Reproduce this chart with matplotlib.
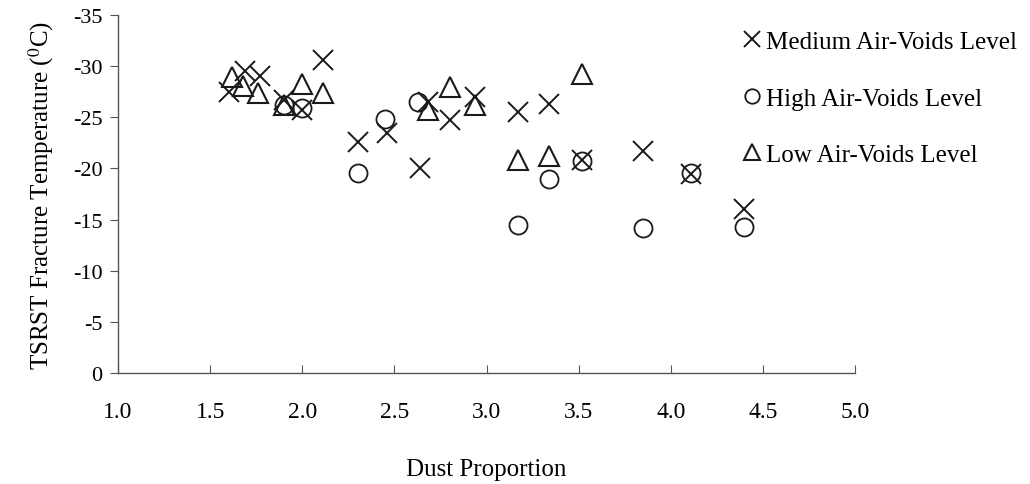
import matplotlib
matplotlib.use("Agg")
import matplotlib.pyplot as plt

plt.rcParams['font.family'] = ['Liberation Serif', 'DejaVu Serif']
plt.rcParams['mathtext.fontset'] = 'stix'

# Medium air-voids level
med_x = [1.60, 1.69, 1.77, 1.90, 2.00, 2.11, 2.30, 2.46, 2.64, 2.68, 2.80, 2.94, 3.17, 3.34, 3.52, 3.85, 4.11, 4.40]
med_y = [-27.5, -29.5, -29.0, -26.7, -25.7, -30.6, -22.6, -23.5, -20.0, -26.5, -24.7, -27.0, -25.5, -26.3, -20.8, -21.7, -19.5, -16.0]

# High air-voids level
high_x = [1.90, 2.00, 2.30, 2.45, 2.63, 3.17, 3.34, 3.52, 3.85, 4.11, 4.40]
high_y = [-26.2, -25.9, -19.6, -24.8, -26.5, -14.5, -19.0, -20.7, -14.2, -19.6, -14.3]

# Low air-voids level
low_x = [1.62, 1.68, 1.76, 1.90, 2.00, 2.11, 2.68, 2.80, 2.94, 3.17, 3.34, 3.52]
low_y = [-28.9, -28.1, -27.4, -26.2, -28.3, -27.4, -25.7, -28.0, -26.2, -20.8, -21.2, -29.2]

xticks = [1.0, 1.5, 2.0, 2.5, 3.0, 3.5, 4.0, 4.5, 5.0]
yticks = [0, -5, -10, -15, -20, -25, -30, -35]

fig = plt.figure(figsize=(10.3, 4.85), dpi=100)
ax = fig.add_axes([118/1030, (485-374)/485, (855-118)/1030, (374-16)/485])

ax.plot(med_x, med_y, 'x', color='#1a1a1a', ms=14, mew=1.4, label='Medium Air-Voids Level')
ax.plot(high_x, high_y, 'o', color='#1a1a1a', mfc='none', ms=13, mew=1.3, label='High Air-Voids Level')
ax.plot(low_x, low_y, '^', color='#1a1a1a', mfc='none', ms=14, mew=1.5, label='Low Air-Voids Level')

ax.set_xlim(1.0, 5.0)
ax.set_ylim(0, -35)
ax.set_xticks(xticks)
ax.set_xticklabels(['%.1f' % t for t in xticks])
ax.set_yticks(yticks)
ax.set_yticklabels([str(t) for t in yticks])

ax.spines['top'].set_visible(False)
ax.spines['right'].set_visible(False)
for s in ['left', 'bottom']:
    ax.spines[s].set_color('#555555')
    ax.spines[s].set_linewidth(1.0)
ax.tick_params(axis='x', direction='in', length=6, color='#555555', labelsize=17, pad=20)
ax.tick_params(axis='y', direction='out', length=6, color='#555555', labelsize=16, pad=5)

ax.set_xlabel('Dust Proportion', fontsize=18, labelpad=26)
ax.set_ylabel(r'TSRST Fracture Temperature ($^{0}$C)', fontsize=18, labelpad=12)

leg = fig.legend(loc='upper left', bbox_to_anchor=(0.723, 0.935), frameon=False,
                 fontsize=18, markerscale=0.8, handlelength=0.6, handletextpad=0.25,
                 labelspacing=1.36, borderaxespad=0, borderpad=0)

fig.savefig('out.png', dpi=100)
